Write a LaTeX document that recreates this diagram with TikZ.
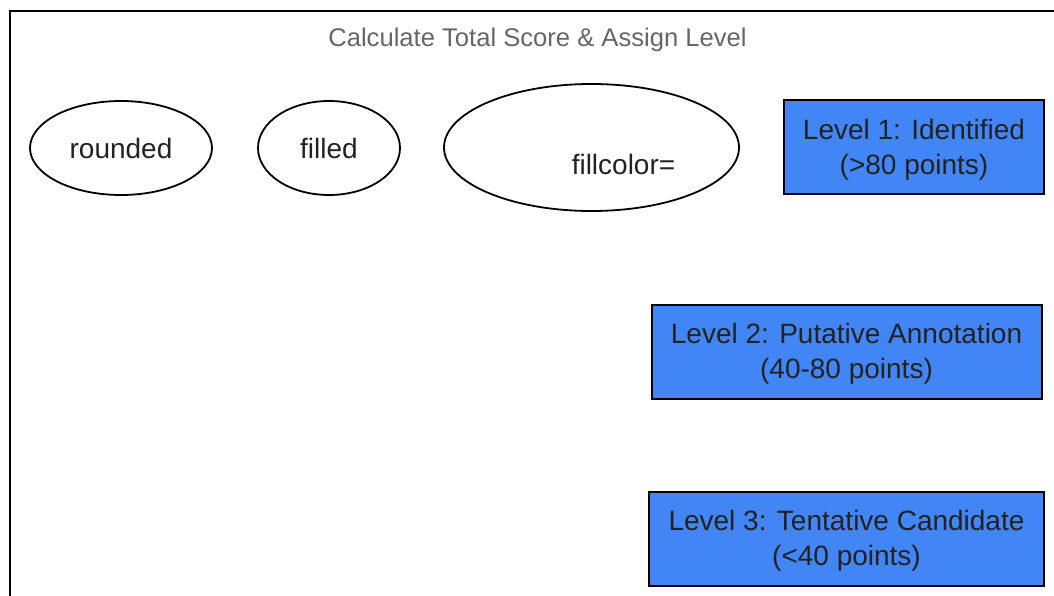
\documentclass[tikz,border=0pt]{standalone}
\usepackage{fontspec}
\setmainfont{Liberation Sans}
\usetikzlibrary{shapes.geometric}
\definecolor{lvlblue}{HTML}{4285F4}
\definecolor{txtdark}{HTML}{222222}
\definecolor{titlegray}{HTML}{666666}
\begin{document}
\begin{tikzpicture}[x=1pt,y=-1pt,
  oval/.style={draw=black,line width=1.8pt,ellipse,inner sep=0pt,text=txtdark,font=\fontsize{28}{35}\selectfont},
  levelbox/.style={draw=black,line width=2pt,fill=lvlblue,rectangle,inner sep=0pt,minimum height=94pt},
  plaintext/.style={inner sep=0pt,align=center,text=txtdark,font=\fontsize{28}{35}\selectfont}]
\useasboundingbox (0,0) rectangle (1054,596);
\clip (0,0) rectangle (1054,596);
\draw[line width=2pt] (9.5,11.5) rectangle (1070,620);
\node[text=titlegray,font=\fontsize{25.6}{30}\selectfont,inner sep=0pt] (title) at (537.5,39.5) {Calculate Total Score \& Assign Level};
\node[oval,minimum width=182pt,minimum height=94pt] (rounded) at (121,148) {rounded};
\node[oval,minimum width=142pt,minimum height=94pt] (filled) at (329,148) {filled};
\node[oval,minimum width=295pt,minimum height=127pt] (fc) at (591.5,147.5) {};
\node[plaintext] (fctext) at (623.5,164) {fillcolor=};
\node[levelbox,minimum width=260pt] (l1) at (914,147.5) {};
\node[plaintext] (l1text) at (914,150) {Level 1: Identified\\(>80 points)};
\node[levelbox,minimum width=390pt] (l2) at (846.5,351.5) {};
\node[plaintext] (l2text) at (846.5,354) {Level 2: Putative Annotation\\(40-80 points)};
\node[levelbox,minimum width=395pt] (l3) at (846.5,538.5) {};
\node[plaintext] (l3text) at (846.5,541) {Level 3: Tentative Candidate\\(<40 points)};
\end{tikzpicture}
\end{document}
